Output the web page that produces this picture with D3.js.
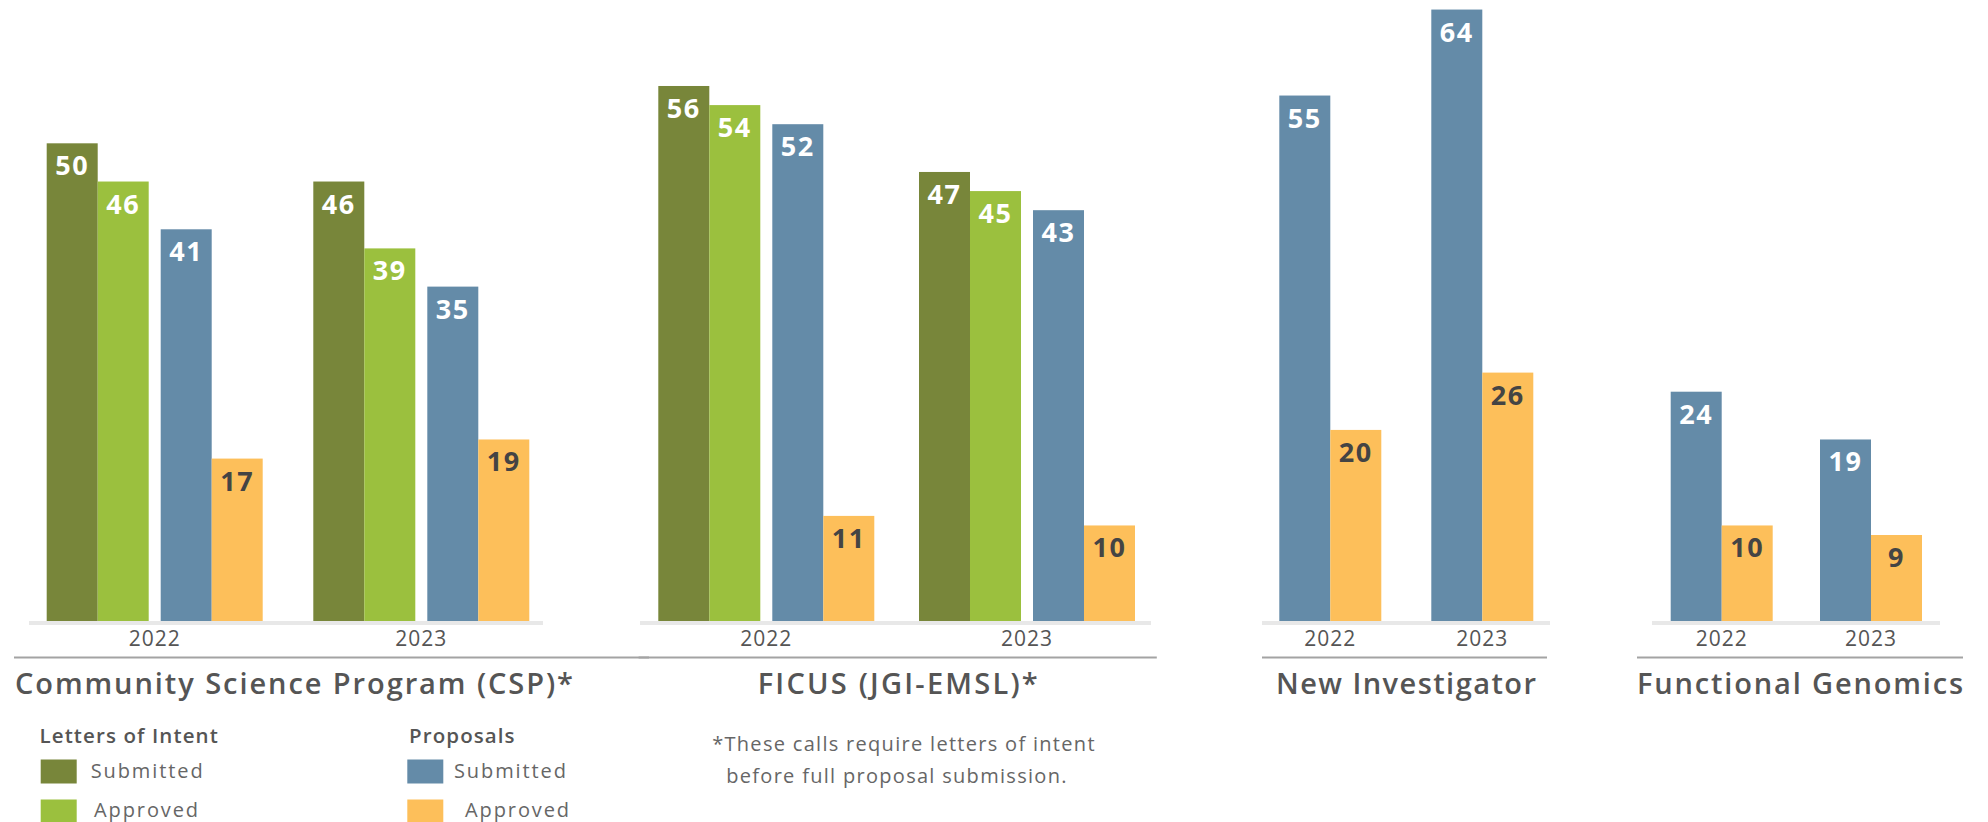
<!DOCTYPE html>
<html>
<head>
<meta charset="utf-8">
<script src="https://cdn.jsdelivr.net/npm/d3@7"></script>
<style>
  html, body { margin: 0; padding: 0; background: #fff; }
  svg { display: block; font-family: 'Open Sans', sans-serif; }
</style>
</head>
<body>
<div id="chart"></div>
<script>

// data
const years = ['2022', '2023'];
const programs = ['Community Science Program (CSP)*', 'FICUS (JGI-EMSL)*', 'New Investigator', 'Functional Genomics'];
const loiSubmitted  = [[50, 46], [56, 47], null, null];
const loiApproved   = [[46, 39], [54, 45], null, null];
const propSubmitted = [[41, 35], [52, 43], [55, 64], [24, 19]];
const propApproved  = [[17, 19], [11, 10], [20, 26], [10, 9]];

const legendGroups = ['Letters of Intent', 'Proposals'];
const legendItems = ['Submitted', 'Approved'];
const footnote = ['*These calls require letters of intent', 'before full proposal submission.'];

const colors = {
  loi_sub: '#78863a',
  loi_app: '#9bc03e',
  prop_sub: '#648ba8',
  prop_app: '#fdbf5a'
};

// layout of each panel (pixels)
const panelLayout = [
  { left: 46.7, right: 529.3, lineL: 29, lineR: 543, sepL: 14, sepR: 649, titleX: 15, anchor: 'start', titleW: 558 },
  { left: 658.3, right: 1135, lineL: 640, lineR: 1151, sepL: 638.6, sepR: 1156.8, titleX: 897.7, anchor: 'middle', titleW: 280 },
  { left: 1279.3, right: 1533.3, lineL: 1262, lineR: 1550, sepL: 1262, sepR: 1547, titleX: 1406, anchor: 'middle', titleW: 260 },
  { left: 1670.7, right: 1922, lineL: 1652, lineR: 1940, sepL: 1637, sepR: 1963, titleX: 1800, anchor: 'middle', titleW: 326 }
];

const width = 1988;
const height = 822;
const baseY = 621;
const barW = 51;
const groupGap = 12;

const svg = d3.select('#chart')
  .append('svg')
  .attr('width', width)
  .attr('height', height);

const yScale = d3.scaleLinear().domain([0, 65]).range([baseY, 0]);

// padding so that the bands land where the picture has them
function padFor(total, bw) {
  return (total - 2 * bw) / (total - bw);
}

programs.forEach((title, p) => {
  const lay = panelLayout[p];
  const groups = loiSubmitted[p] ? ['loi', 'prop'] : ['prop'];
  const bandW = groups.length * 2 * barW + (groups.length - 1) * groupGap;

  const xYear = d3.scaleBand()
    .domain(years)
    .range([lay.left, lay.right])
    .paddingInner(padFor(lay.right - lay.left, bandW))
    .paddingOuter(0);

  const xGroup = d3.scaleBand()
    .domain(groups)
    .range([0, xYear.bandwidth()])
    .paddingInner(groups.length > 1 ? groupGap / (2 * barW + groupGap) : 0);

  const xKind = d3.scaleBand()
    .domain(['sub', 'app'])
    .range([0, xGroup.bandwidth()]);

  // flatten into rows
  let rows = [];
  years.forEach((yr, i) => {
    if (loiSubmitted[p]) {
      rows.push({ year: yr, group: 'loi', kind: 'sub', value: loiSubmitted[p][i] });
      rows.push({ year: yr, group: 'loi', kind: 'app', value: loiApproved[p][i] });
    }
    rows.push({ year: yr, group: 'prop', kind: 'sub', value: propSubmitted[p][i] });
    rows.push({ year: yr, group: 'prop', kind: 'app', value: propApproved[p][i] });
  });

  const g = svg.append('g').attr('class', 'panel');

  // light baseline under the bars
  g.append('line')
    .attr('x1', lay.lineL)
    .attr('x2', lay.lineR)
    .attr('y1', baseY + 2)
    .attr('y2', baseY + 2)
    .attr('stroke', '#e8e8e8')
    .attr('stroke-width', 4);

  const xPos = (d) => xYear(d.year) + xGroup(d.group) + xKind(d.kind);

  g.selectAll('rect.bar')
    .data(rows)
    .join('rect')
    .attr('class', 'bar')
    .attr('x', xPos)
    .attr('y', (d) => yScale(d.value))
    .attr('width', xKind.bandwidth())
    .attr('height', (d) => baseY - yScale(d.value))
    .attr('fill', (d) => colors[d.group + '_' + d.kind]);

  g.selectAll('text.val')
    .data(rows)
    .join('text')
    .attr('class', 'val')
    .attr('x', (d) => xPos(d) + xKind.bandwidth() / 2)
    .attr('y', (d) => yScale(d.value) + 32)
    .attr('text-anchor', 'middle')
    .attr('font-size', 27)
    .attr('font-weight', 700)
    .attr('letter-spacing', 1.5)
    .attr('fill', (d) => (d.group === 'prop' && d.kind === 'app') ? '#444' : '#fff')
    .text((d) => d.value);

  // year labels
  const axis = g.append('g')
    .attr('transform', `translate(0, ${baseY})`)
    .call(d3.axisBottom(xYear).tickSize(0).tickPadding(10));
  axis.select('.domain').remove();
  axis.selectAll('text')
    .attr('font-family', "'Open Sans', sans-serif")
    .attr('font-size', 21)
    .attr('letter-spacing', 1)
    .attr('fill', '#555');

  // separator + program title
  g.append('line')
    .attr('x1', lay.sepL)
    .attr('x2', lay.sepR)
    .attr('y1', 657.5)
    .attr('y2', 657.5)
    .attr('stroke', '#a3a3a3')
    .attr('stroke-width', 2);

  g.append('text')
    .attr('x', lay.titleX)
    .attr('y', 694)
    .attr('text-anchor', lay.anchor)
    .attr('font-size', 29)
    .attr('font-weight', 600)
    .attr('fill', '#555')
    .attr('textLength', lay.titleW)
    .attr('lengthAdjust', 'spacing')
    .text(title);
});

// legend
const legendX = [39.5, 409];
const swatchX = [40.7, 407.3];
const itemX = [[90.7, 94], [454, 465]];
const legendColors = [[colors.loi_sub, colors.loi_app], [colors.prop_sub, colors.prop_app]];

const legend = svg.append('g').attr('class', 'legend');
legendGroups.forEach((name, i) => {
  legend.append('text')
    .attr('x', legendX[i])
    .attr('y', 743)
    .attr('font-size', 20.5)
    .attr('font-weight', 600)
    .attr('letter-spacing', 1.1)
    .attr('fill', '#555')
    .text(name);

  legendItems.forEach((item, j) => {
    legend.append('rect')
      .attr('x', swatchX[i])
      .attr('y', 759.5 + j * 40)
      .attr('width', 36)
      .attr('height', 24)
      .attr('fill', legendColors[i][j]);
    legend.append('text')
      .attr('x', itemX[i][j])
      .attr('y', 778 + j * 39)
      .attr('font-size', 20)
      .attr('letter-spacing', 1.9)
      .attr('fill', '#666')
      .text(item);
  });
});

// footnote under FICUS
svg.append('g')
  .selectAll('text')
  .data(footnote)
  .join('text')
  .attr('x', (d, i) => i === 0 ? 904 : 897)
  .attr('y', (d, i) => 751 + i * 32)
  .attr('text-anchor', 'middle')
  .attr('font-size', 20)
  .attr('letter-spacing', 1.3)
  .attr('fill', '#666')
  .text((d) => d);

</script>
</body>
</html>
